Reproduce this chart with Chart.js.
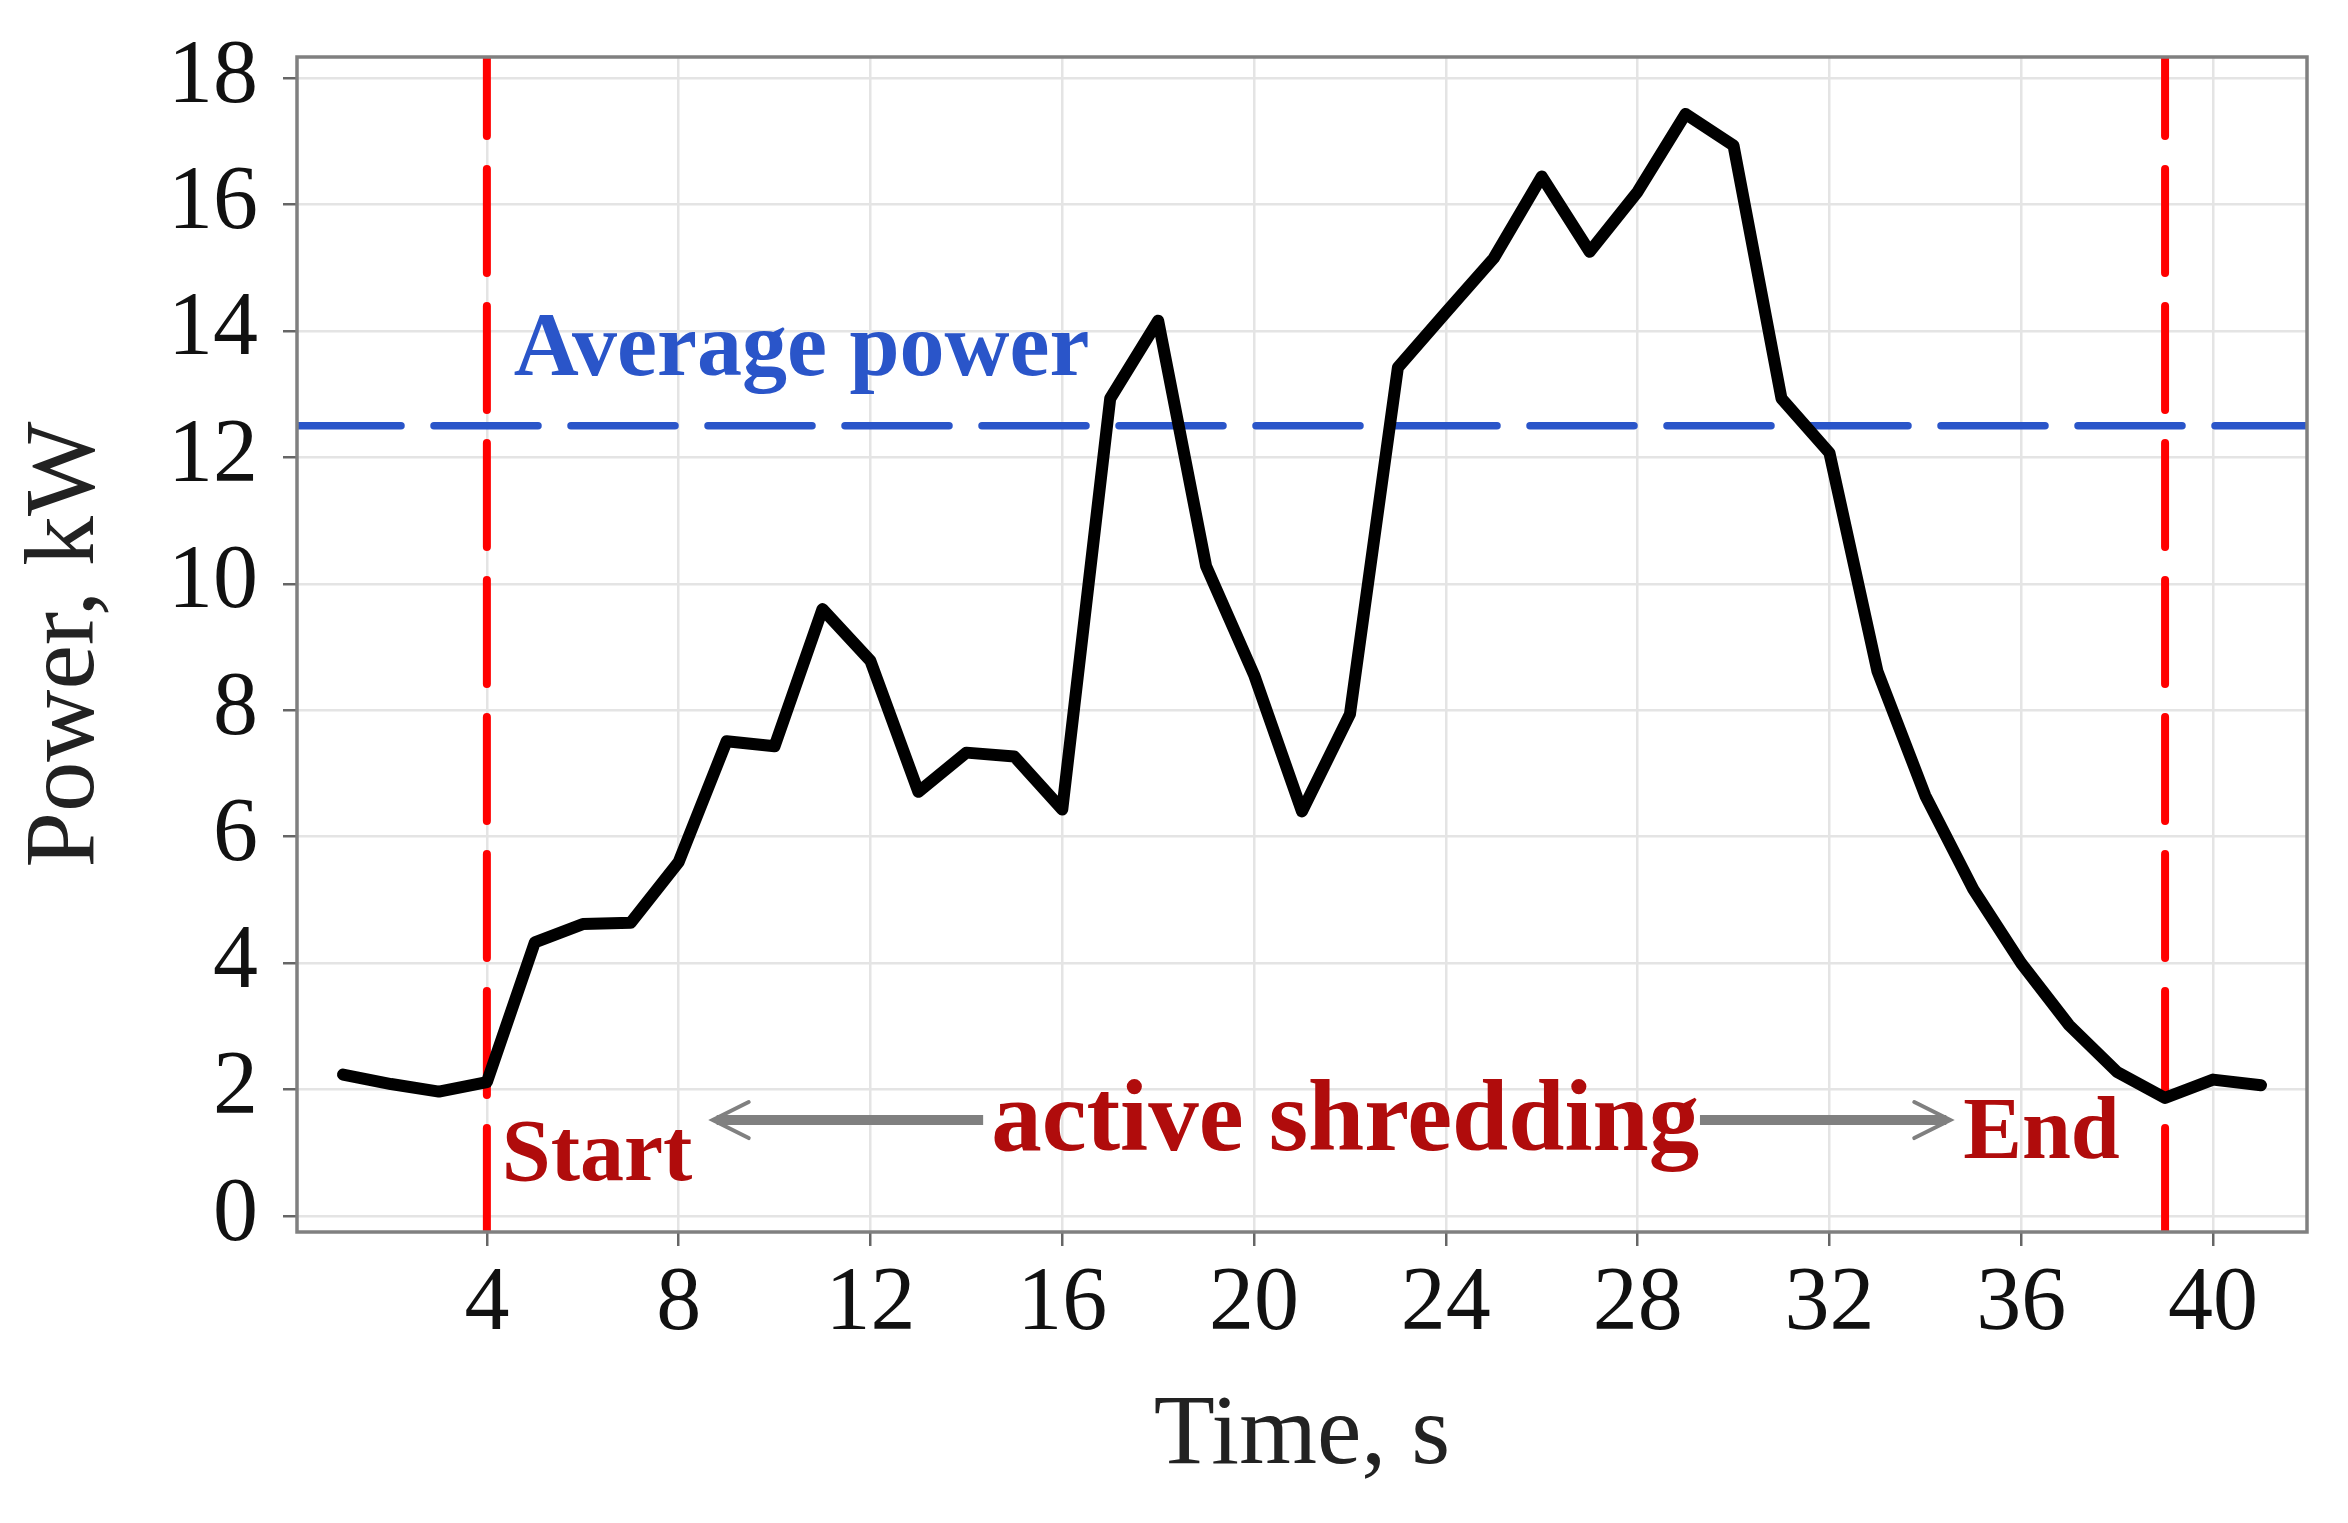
<!DOCTYPE html>
<html>
<head>
<meta charset="utf-8">
<script src="https://cdn.jsdelivr.net/npm/chart.js@4.4.1/dist/chart.umd.min.js"></script>
<style>
  html, body { margin: 0; padding: 0; background: #fff; }
</style>
</head>
<body>
<canvas id="power-chart" width="2348" height="1523"></canvas>
<script>
const timeS = [1, 2, 3, 4, 5, 6, 7, 8, 9, 10,
  11, 12, 13, 14, 15, 16, 17, 18, 19, 20,
  21, 22, 23, 24, 25, 26, 27, 28, 29, 30,
  31, 32, 33, 34, 35, 36, 37, 38, 39, 40, 41];
const powerKW = [2.24, 2.09, 1.97, 2.12, 4.33, 4.62, 4.64, 5.6, 7.51, 7.43,
  9.6, 8.78, 6.71, 7.33, 7.27, 6.43, 12.93, 14.16, 10.28, 8.56,
  6.40, 7.94, 13.42, 14.29, 15.15, 16.44, 15.25, 16.2, 17.43, 16.93,
  12.93, 12.07, 8.62, 6.65, 5.17, 4.0, 3.02, 2.28, 1.87, 2.16, 2.07];

const avgPower = 12.5;
const startTime = 4;
const endTime = 39;

const xTicks = [4, 8, 12, 16, 20, 24, 28, 32, 36, 40];
const yTicks = [0, 2, 4, 6, 8, 10, 12, 14, 16, 18];

const X_MIN = 0.04, X_MAX = 41.96;
const Y_MIN = -0.25, Y_MAX = 18.33;

const SERIF = '"Liberation Serif", "Times New Roman", serif';

// frame round the plot area + text labels / arrows
const annotations = {
  id: 'annotations',
  afterDatasetsDraw(chart) {
    const { ctx, chartArea: a, scales: { x, y } } = chart;
    ctx.save();

    ctx.strokeStyle = '#808080';
    ctx.lineWidth = 3.5;
    ctx.strokeRect(a.left, a.top, a.right - a.left, a.bottom - a.top);

    ctx.textBaseline = 'alphabetic';
    ctx.textAlign = 'left';
    ctx.font = 'bold 90px ' + SERIF;
    ctx.fillStyle = '#2a55c9';
    ctx.fillText('Average power', x.getPixelForValue(4.56), y.getPixelForValue(13.3));

    ctx.fillStyle = '#b00c0c';
    ctx.font = 'bold 88px ' + SERIF;
    ctx.fillText('Start', x.getPixelForValue(4.31), y.getPixelForValue(0.57));
    ctx.fillText('End', x.getPixelForValue(34.79), y.getPixelForValue(0.92));

    ctx.font = 'bold 101px ' + SERIF;
    ctx.textAlign = 'center';
    ctx.fillText('active shredding', x.getPixelForValue(21.9), y.getPixelForValue(1.04));

    // arrows
    const ay = y.getPixelForValue(1.52);
    const drawArrow = (fromX, tipX) => {
      const dir = Math.sign(tipX - fromX);
      ctx.strokeStyle = '#808080';
      ctx.lineCap = 'butt';
      ctx.lineWidth = 10;
      ctx.beginPath();
      ctx.moveTo(fromX, ay);
      ctx.lineTo(tipX - dir * 4, ay);
      ctx.stroke();
      ctx.lineWidth = 4;
      ctx.lineCap = 'round';
      ctx.beginPath();
      ctx.moveTo(tipX - dir * 36, ay - 18);
      ctx.lineTo(tipX, ay);
      ctx.lineTo(tipX - dir * 36, ay + 18);
      ctx.stroke();
    };
    drawArrow(x.getPixelForValue(14.35), x.getPixelForValue(8.71));
    drawArrow(x.getPixelForValue(29.3), x.getPixelForValue(34.52));

    ctx.restore();
  }
};

new Chart('power-chart', {
  type: 'line',
  data: {
    datasets: [
      {
        label: 'Power',
        data: timeS.map((t, i) => ({ x: t, y: powerKW[i] })),
        borderColor: '#000',
        borderWidth: 12,
        borderJoinStyle: 'round',
        borderCapStyle: 'round',
        pointRadius: 0,
        tension: 0,
        order: 0
      },
      {
        label: 'Start',
        data: [{ x: startTime, y: Y_MIN }, { x: startTime, y: Y_MAX }],
        borderColor: '#ff0000',
        borderWidth: 8,
        borderDash: [104, 33],
        borderCapStyle: 'round',
        pointRadius: 0,
        clip: 0,
        order: 1
      },
      {
        label: 'End',
        data: [{ x: endTime, y: Y_MIN }, { x: endTime, y: Y_MAX }],
        borderColor: '#ff0000',
        borderWidth: 8,
        borderDash: [104, 33],
        borderCapStyle: 'round',
        pointRadius: 0,
        clip: 0,
        order: 1
      },
      {
        label: 'Average power',
        data: [{ x: X_MIN, y: avgPower }, { x: X_MAX, y: avgPower }],
        borderColor: '#2a55c9',
        borderWidth: 7.5,
        borderDash: [104, 33],
        borderCapStyle: 'round',
        pointRadius: 0,
        clip: 0,
        order: 2
      }
    ]
  },
  options: {
    responsive: false,
    animation: false,
    devicePixelRatio: 1,
    layout: { padding: { top: 57, right: 41, left: 0, bottom: 0 } },
    plugins: {
      legend: { display: false },
      tooltip: { enabled: false }
    },
    scales: {
      x: {
        type: 'linear',
        min: X_MIN,
        max: X_MAX,
        afterBuildTicks: s => { s.ticks = xTicks.map(v => ({ value: v })); },
        afterFit: s => { s.height = 291; s.paddingLeft = 0; s.paddingRight = 0; },
        grid: { color: '#e4e4e4', lineWidth: 2.5, tickLength: 14, tickColor: '#666', tickWidth: 2.5 },
        border: { display: false },
        ticks: {
          autoSkip: false, maxRotation: 0, padding: 14, color: '#111',
          font: { family: SERIF, size: 90, lineHeight: 1 }
        },
        title: {
          display: true, text: 'Time, s', color: '#222',
          font: { family: SERIF, size: 100, lineHeight: 1 },
          padding: { top: 0, bottom: 36 }
        }
      },
      y: {
        type: 'linear',
        min: Y_MIN,
        max: Y_MAX,
        afterBuildTicks: s => { s.ticks = yTicks.map(v => ({ value: v })); },
        afterFit: s => { s.width = 297; s.paddingTop = 0; s.paddingBottom = 0; },
        grid: { color: '#e4e4e4', lineWidth: 2.5, tickLength: 14, tickColor: '#666', tickWidth: 2.5 },
        border: { display: false },
        ticks: {
          autoSkip: false, padding: 25, color: '#111',
          font: { family: SERIF, size: 90, lineHeight: 1 }
        },
        title: {
          display: true, text: 'Power, kW', color: '#222',
          font: { family: SERIF, size: 100, lineHeight: 1 },
          padding: { top: 17, bottom: 0 }
        }
      }
    }
  },
  plugins: [annotations]
});
</script>
</body>
</html>
